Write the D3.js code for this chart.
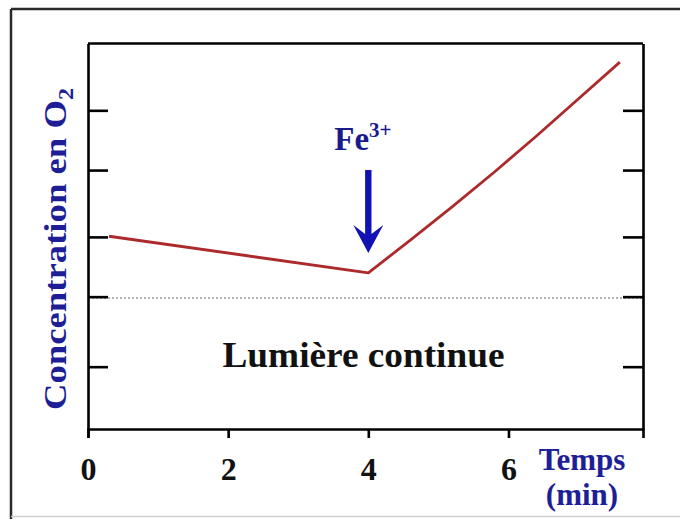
<!DOCTYPE html>
<html>
<head>
<meta charset="utf-8">
<script src="https://cdn.jsdelivr.net/npm/d3@7"></script>
<style>
  html, body { margin: 0; padding: 0; background: #fff; }
  svg { display: block; }
  text { font-family: "Liberation Serif", "Times New Roman", serif; font-weight: bold; }
</style>
</head>
<body>
<script>
// O2 concentration over time under continuous light; Fe3+ added at t = 4 min
const times = [0.3, 4.0, 4.6, 5.2, 5.8, 6.4, 7.0, 7.59];
const concentration = [3.0, 2.43, 2.94, 3.46, 4.0, 4.56, 5.14, 5.71];
const xTickValues = [0, 2, 4, 6];
const xTickLabels = ["0", "2", "4", "6"];
const yTickValues = [0.97, 2.06, 2.99, 4.03, 4.96];
const baselineLevel = 2.04;          // dotted reference level
const injectionTime = 4;             // Fe3+ addition
const arrowSpan = [4.03, 2.74];      // arrow from / to, concentration units

const W = 680, H = 519;
const plot = { left: 88, right: 643, top: 43.5, bottom: 429 };

const svg = d3.select("body").append("svg").attr("width", W).attr("height", H);

// outer frame
svg.append("line").attr("x1", 11).attr("x2", W).attr("y1", 9).attr("y2", 9)
  .attr("stroke", "#2a2a2a").attr("stroke-width", 2.5);
svg.append("line").attr("x1", 11).attr("x2", 11).attr("y1", 9).attr("y2", H)
  .attr("stroke", "#2a2a2a").attr("stroke-width", 2.5);
svg.append("line").attr("x1", 11).attr("x2", W).attr("y1", 516.5).attr("y2", 516.5)
  .attr("stroke", "#cfcfcf").attr("stroke-width", 1.5);

const x = d3.scaleLinear().domain([0, 7.92]).range([plot.left, plot.right]);
const y = d3.scaleLinear().domain([0, 6]).range([plot.bottom, plot.top]);

// dotted reference level
svg.append("line")
  .attr("x1", x(0)).attr("x2", x(7.92))
  .attr("y1", y(baselineLevel)).attr("y2", y(baselineLevel))
  .attr("stroke", "#9a9a9a").attr("stroke-width", 1.5)
  .attr("stroke-dasharray", "2,2");

// axes
const axisStyle = g => {
  g.selectAll("path, line").attr("stroke", "#000").attr("stroke-width", 2.6);
};

svg.append("g").attr("transform", `translate(${plot.left},0)`)
  .call(d3.axisLeft(y).tickValues(yTickValues).tickSize(-20).tickSizeOuter(0).tickFormat(""))
  .call(axisStyle);

svg.append("g").attr("transform", `translate(${plot.right},0)`)
  .call(d3.axisRight(y).tickValues(yTickValues).tickSize(-20).tickSizeOuter(0).tickFormat(""))
  .call(axisStyle);

svg.append("line")
  .attr("x1", plot.left).attr("x2", plot.right)
  .attr("y1", plot.top).attr("y2", plot.top)
  .attr("stroke", "#000").attr("stroke-width", 2.6);

const xAxis = svg.append("g").attr("transform", `translate(0,${plot.bottom})`)
  .call(d3.axisBottom(x).tickValues(xTickValues).tickSize(9).tickSizeOuter(9)
    .tickFormat((d, i) => xTickLabels[i]))
  .call(axisStyle);
xAxis.selectAll("text")
  .attr("y", 51).attr("dy", 0)
  .attr("fill", "#111")
  .style("font-family", "'Liberation Serif', 'Times New Roman', serif")
  .style("font-weight", "bold")
  .style("font-size", "32px");

// curve
const line = d3.line().x((d, i) => x(times[i])).y(d => y(d));
svg.append("path")
  .attr("d", line(concentration))
  .attr("fill", "none")
  .attr("stroke", "#ac2a2c")
  .attr("stroke-width", 2.8)
  .attr("stroke-linejoin", "round");

// Fe3+ arrow
const ax = x(injectionTime), ay0 = y(arrowSpan[0]), ay1 = y(arrowSpan[1]);
const headLen = 28, headHalf = 15, notch = 11, shaftHalf = 3.2;
svg.append("path")
  .attr("d", [
    `M${ax - shaftHalf},${ay0}`,
    `L${ax + shaftHalf},${ay0}`,
    `L${ax + shaftHalf},${ay1 - headLen + notch - 2}`,
    `L${ax + headHalf},${ay1 - headLen}`,
    `L${ax},${ay1}`,
    `L${ax - headHalf},${ay1 - headLen}`,
    `L${ax - shaftHalf},${ay1 - headLen + notch - 2}`,
    "Z"
  ].join(""))
  .attr("fill", "#1212b4");

const fe = svg.append("text")
  .attr("x", ax - 34).attr("y", 150)
  .attr("fill", "#1a1a8e")
  .style("font-size", "33px");
fe.append("tspan").text("Fe");
fe.append("tspan").attr("dy", -13).style("font-size", "21px").text("3+");

// annotation
svg.append("text")
  .attr("x", (plot.left + plot.right) / 2 - 2).attr("y", 367)
  .attr("text-anchor", "middle")
  .attr("fill", "#111")
  .attr("textLength", 282).attr("lengthAdjust", "spacingAndGlyphs")
  .style("font-size", "35px")
  .text("Lumière continue");

// y-axis title
const yTitle = svg.append("text")
  .attr("transform", "translate(66,249) rotate(-90)")
  .attr("text-anchor", "middle")
  .attr("fill", "#1e1e96")
  .attr("textLength", 322).attr("lengthAdjust", "spacingAndGlyphs")
  .style("font-size", "32px");
yTitle.append("tspan").text("Concentration en O");
yTitle.append("tspan").attr("dy", 7).style("font-size", "21px").text("2");

// x-axis title
svg.append("text")
  .attr("x", 582).attr("y", 470)
  .attr("text-anchor", "middle")
  .attr("fill", "#1e1e96")
  .style("font-size", "31px")
  .text("Temps");
svg.append("text")
  .attr("x", 582).attr("y", 505)
  .attr("text-anchor", "middle")
  .attr("fill", "#1e1e96")
  .style("font-size", "31px")
  .text("(min)");
</script>
</body>
</html>
